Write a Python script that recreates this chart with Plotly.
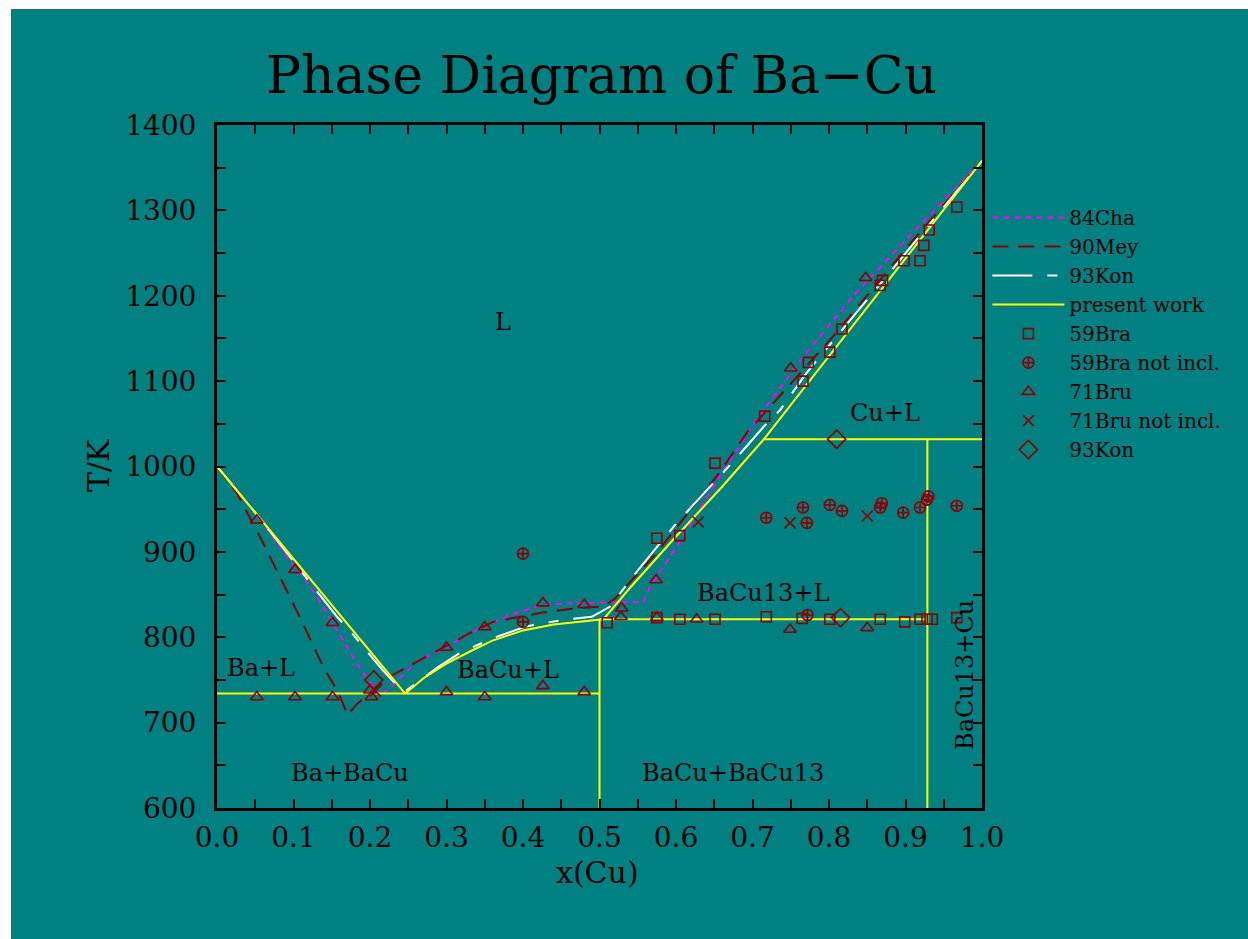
import plotly.graph_objects as go

# ---------------- data ----------------
# present work (yellow)
pw_liq_ba_x = [0.0, 0.246]
pw_liq_ba_T = [1000, 734]
pw_liq_bacu_x = [0.246, 0.27, 0.30, 0.33, 0.36, 0.40, 0.44, 0.48, 0.505]
pw_liq_bacu_T = [734, 752, 769, 783, 796, 808, 815, 819, 821]
pw_liq_cu_x = [0.505, 0.54, 0.60, 0.66, 0.714, 0.80, 0.90, 1.0]
pw_liq_cu_T = [821, 858, 918, 976, 1031, 1129, 1244, 1358]
pw_eut_x = [0.0, 0.5]
pw_eut_T = [734, 734]
pw_per13_x = [0.5, 0.9286]
pw_per13_T = [821, 821]
pw_percu_x = [0.714, 1.0]
pw_percu_T = [1032, 1032]
pw_bacu_x = [0.5, 0.5]
pw_bacu_T = [600, 821]
pw_bacu13_x = [0.9286, 0.9286]
pw_bacu13_T = [600, 1032]

# 84Cha (magenta dotted)
cha84_x = [0.0, 0.05, 0.093, 0.12, 0.143, 0.165, 0.187, 0.213, 0.226, 0.261, 0.30, 0.34,
           0.383, 0.426, 0.47, 0.52, 0.557, 0.566, 0.60, 0.65, 0.706, 0.766, 0.832, 0.897, 1.0]
cha84_T = [1000, 946, 893, 862, 829, 796, 763, 731, 741, 771, 789, 809,
           826, 838, 840, 841, 841, 859, 905, 978, 1056, 1128, 1200, 1262, 1358]

# 90Mey (dark red dashed)
mey90_x = [0.0, 0.026, 0.06, 0.078, 0.108, 0.139, 0.157, 0.171, 0.182, 0.23, 0.265, 0.331,
           0.361, 0.426, 0.47, 0.505, 0.52, 0.575, 0.622, 0.657, 0.693, 0.805, 0.91, 1.0]
mey90_T = [1000, 969, 911, 879, 824, 765, 738, 709, 721, 756, 773, 805,
           818, 829, 834, 836, 845, 899, 953, 993, 1040, 1152, 1265, 1358]

# 93Kon (white long-short dash)
kon93_line_x = [0.0, 0.05, 0.126, 0.157, 0.178, 0.216, 0.242, 0.248, 0.289, 0.318, 0.361,
                0.405, 0.45, 0.49, 0.514, 0.54, 0.579, 0.601, 0.64, 0.675, 0.714, 0.736,
                0.771, 0.831, 0.858, 0.902, 1.0]
kon93_line_T = [1000, 946, 859, 824, 803, 762, 737, 738, 765, 782, 799,
                813, 820, 824, 836, 867, 910, 934, 972, 1006, 1046, 1066,
                1110, 1175, 1204, 1252, 1358]

# experimental points
bra59_x = [0.575, 0.605, 0.651, 0.716, 0.766, 0.773, 0.801, 0.817, 0.867, 0.870, 0.898,
           0.919, 0.924, 0.931, 0.967,
           0.51, 0.575, 0.605, 0.651, 0.718, 0.765, 0.801, 0.867, 0.899, 0.919, 0.928,
           0.935, 0.967]
bra59_T = [916, 919, 1004, 1059, 1100, 1122, 1134, 1161, 1212, 1218, 1241,
           1241, 1259, 1277, 1304,
           817, 823, 821, 821, 824, 822, 821, 821, 818, 821, 821,
           821, 823]

bra59ni_x = [0.40, 0.40, 0.718, 0.766, 0.771, 0.801, 0.817, 0.867, 0.869, 0.897, 0.919,
             0.928, 0.930, 0.967, 0.772]
bra59ni_T = [898, 818, 940, 952, 934, 955, 948, 952, 957, 946, 952,
             961, 965, 954, 826]

bru71_x = [0.052, 0.102, 0.151, 0.202, 0.30, 0.35, 0.426, 0.48,
           0.052, 0.102, 0.151, 0.30, 0.35, 0.426, 0.48, 0.529, 0.528, 0.574,
           0.575, 0.627, 0.749, 0.85, 0.75, 0.848, 0.20]
bru71_T = [730, 730, 730, 730, 736, 730, 743, 736,
           937, 879, 817, 788, 812, 840, 838, 834, 824, 867,
           823, 821, 809, 811, 1115, 1221, 738]

bru71ni_x = [0.629, 0.749, 0.85, 0.207]
bru71ni_T = [935, 934, 942, 737]

kon93_x = [0.81, 0.205, 0.815]
kon93_T = [1032, 750, 823]

x_tick_vals = [0.0, 0.05, 0.1, 0.15, 0.2, 0.25, 0.3, 0.35, 0.4, 0.45, 0.5,
               0.55, 0.6, 0.65, 0.7, 0.75, 0.8, 0.85, 0.9, 0.95, 1.0]
x_tick_text = ["0.0", "", "0.1", "", "0.2", "", "0.3", "", "0.4", "", "0.5",
               "", "0.6", "", "0.7", "", "0.8", "", "0.9", "", "1.0"]
y_tick_vals = [600, 650, 700, 750, 800, 850, 900, 950, 1000, 1050, 1100,
               1150, 1200, 1250, 1300, 1350, 1400]
y_tick_text = ["600", "", "700", "", "800", "", "900", "", "1000", "", "1100",
               "", "1200", "", "1300", "", "1400"]

region_labels = ["L", "Cu+L", "BaCu13+L", "Ba+L", "BaCu+L", "Ba+BaCu", "BaCu+BaCu13"]
region_x = [0.374, 0.873, 0.714, 0.058, 0.38, 0.174, 0.675]
region_T = [1169, 1063, 852, 764, 762, 641, 641]

# ---------------- figure ----------------
TEAL = "#008080"
DRED = "#8B0000"
FONT = "DejaVu Serif"


def joined(*segs):
    xs, ys = [], []
    for sx, sy in segs:
        xs += list(sx) + [None]
        ys += list(sy) + [None]
    return xs, ys


fig = go.Figure()

fig.add_trace(go.Scatter(x=cha84_x, y=cha84_T, mode="lines", name="84Cha",
                         line=dict(color="#FF00FF", width=2, dash="6px,5px")))
fig.add_trace(go.Scatter(x=mey90_x, y=mey90_T, mode="lines", name="90Mey",
                         line=dict(color=DRED, width=2, dash="16px,10px")))
fig.add_trace(go.Scatter(x=kon93_line_x, y=kon93_line_T, mode="lines", name="93Kon",
                         line=dict(color="#FFFFFF", width=2, dash="40px,15px,10px,15px")))
pw_x, pw_T = joined((pw_liq_ba_x, pw_liq_ba_T), (pw_liq_bacu_x, pw_liq_bacu_T),
                    (pw_liq_cu_x, pw_liq_cu_T), (pw_eut_x, pw_eut_T),
                    (pw_per13_x, pw_per13_T), (pw_percu_x, pw_percu_T),
                    (pw_bacu_x, pw_bacu_T), (pw_bacu13_x, pw_bacu13_T))
fig.add_trace(go.Scatter(x=pw_x, y=pw_T, mode="lines", name="present work",
                         connectgaps=False, line=dict(color="#FFFF00", width=2)))

fig.add_trace(go.Scatter(x=bra59_x, y=bra59_T, mode="markers", name="59Bra",
                         marker=dict(symbol="square-open", size=10, color=DRED,
                                     line=dict(width=1.6, color=DRED))))
fig.add_trace(go.Scatter(x=bra59ni_x, y=bra59ni_T, mode="markers", name="59Bra not incl.",
                         marker=dict(symbol="circle-cross-open", size=11, color=DRED,
                                     line=dict(width=1.6, color=DRED))))
fig.add_trace(go.Scatter(x=bru71_x, y=bru71_T, mode="markers", name="71Bru",
                         marker=dict(symbol="triangle-up-open", size=11, color=DRED,
                                     line=dict(width=1.6, color=DRED))))
fig.add_trace(go.Scatter(x=bru71ni_x, y=bru71ni_T, mode="markers", name="71Bru not incl.",
                         marker=dict(symbol="x-thin-open", size=11, color=DRED,
                                     line=dict(width=1.6, color=DRED))))
fig.add_trace(go.Scatter(x=kon93_x, y=kon93_T, mode="markers", name="93Kon",
                         marker=dict(symbol="diamond-open", size=14, color=DRED,
                                     line=dict(width=1.6, color=DRED))))

annotations = []
for t, xx, yy in zip(region_labels, region_x, region_T):
    annotations.append(dict(x=xx, y=yy, xref="x", yref="y", text=t, showarrow=False,
                            font=dict(family=FONT, size=24, color="black"),
                            xanchor="center", yanchor="middle"))
annotations.append(dict(x=0.978, y=756, xref="x", yref="y", text="BaCu13+Cu",
                        showarrow=False, textangle=-90,
                        font=dict(family=FONT, size=24, color="black"),
                        xanchor="center", yanchor="middle"))
annotations.append(dict(x=0.502, y=1.0732, xref="paper", yref="paper",
                        text="Phase Diagram of Ba\u2212Cu", showarrow=False,
                        font=dict(family=FONT, size=52, color="black"),
                        xanchor="center", yanchor="middle"))
annotations.append(dict(x=0.498, y=-0.094, xref="paper", yref="paper", text="x(Cu)",
                        showarrow=False, font=dict(family=FONT, size=30, color="black"),
                        xanchor="center", yanchor="middle"))
annotations.append(dict(x=-0.1556, y=0.502, xref="paper", yref="paper", text="T/K",
                        showarrow=False, textangle=-90,
                        font=dict(family=FONT, size=30, color="black"),
                        xanchor="center", yanchor="middle"))

shapes = [
    dict(type="rect", xref="paper", yref="paper", x0=-0.30, x1=-0.2693, y0=-0.25, y1=1.25,
         fillcolor="white", line=dict(width=0), layer="below"),
    dict(type="rect", xref="paper", yref="paper", x0=-0.30, x1=1.40, y0=1.1698, y1=1.25,
         fillcolor="white", line=dict(width=0), layer="below"),
]

axis_common = dict(showline=True, linecolor="black", linewidth=3, mirror="ticks",
                   ticks="inside", ticklen=9, tickwidth=2, tickcolor="black",
                   showgrid=False, zeroline=False,
                   tickfont=dict(family=FONT, size=28, color="black"))

fig.update_layout(
    width=1248, height=939,
    margin=dict(l=217, r=266, t=125, b=131, pad=0),
    paper_bgcolor=TEAL, plot_bgcolor=TEAL,
    xaxis=dict(range=[0, 1], tickmode="array", tickvals=x_tick_vals,
               ticktext=x_tick_text, ticklabelstandoff=2, **axis_common),
    yaxis=dict(range=[600, 1400], tickmode="array", tickvals=y_tick_vals,
               ticktext=y_tick_text, ticklabelstandoff=12, **axis_common),
    legend=dict(x=1.007, y=0.893, xanchor="left", yanchor="top",
                bgcolor="rgba(0,0,0,0)", borderwidth=0, itemwidth=72,
                font=dict(family=FONT, size=20, color="black"),
                tracegroupgap=0),
    annotations=annotations,
    shapes=shapes,
    showlegend=True,
)

fig.write_html("out.html")
